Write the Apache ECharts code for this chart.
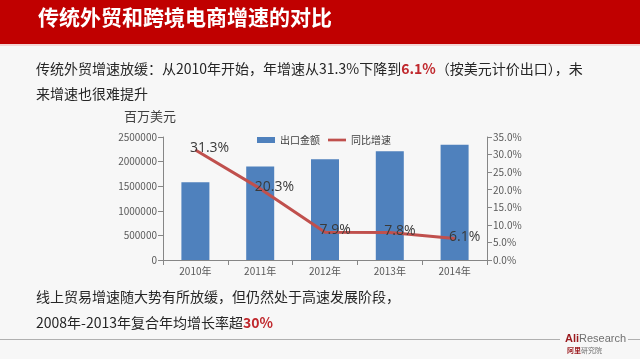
<!DOCTYPE html>
<html><head><meta charset="utf-8">
<script src="https://cdn.jsdelivr.net/npm/echarts@6/dist/echarts.min.js"></script>
<style>html,body{margin:0;padding:0;background:#f7f7f7}#c{width:640px;height:359px}</style>
</head><body><div id="c"></div>
<script>
const categories = ['2010年','2011年','2012年','2013年','2014年'];
const exportValues = [1577754, 1898381, 2048714, 2209004, 2342293];
const growthRates = [31.3, 20.3, 7.9, 7.8, 6.1];
const seriesNames = ['出口金额','同比增速'];

const FONT = '"Noto Sans CJK SC","Noto Sans",sans-serif';
const chart = echarts.init(document.getElementById('c'));
chart.setOption({
  backgroundColor: '#f7f7f7',
  textStyle: {fontFamily: FONT},
  animation: false,
  graphic: [
    {type:'rect', shape:{x:0,y:0,width:640,height:44}, style:{fill:'#c00000'}},
    {type:'rect', shape:{x:0,y:44,width:640,height:2}, style:{fill:'#f3d6d6'}},
    {type:'text', left:38, top:7, style:{text:'传统外贸和跨境电商增速的对比', fill:'#ffffff', font:'bold 21px '+FONT}},
    {type:'text', left:36, top:62, style:{text:'传统外贸增速放缓：从2010年开始，年增速从31.3%下降到{r|6.1%}（按美元计价出口），未', fill:'#262626', font:'14px '+FONT, rich:{r:{fill:'#c0282d', fontWeight:'bold', fontSize:14, fontFamily:FONT}}}},
    {type:'text', left:36, top:87, style:{text:'来增速也很难提升', fill:'#262626', font:'14px '+FONT}},
    {type:'text', left:124, top:110, style:{text:'百万美元', fill:'#404040', font:'13px '+FONT}},
    {type:'text', left:36, top:290, style:{text:'线上贸易增速随大势有所放缓，但仍然处于高速发展阶段，', fill:'#262626', font:'14px '+FONT}},
    {type:'text', left:36, top:316, style:{text:'2008年-2013年复合年均增长率超{r|30%}', fill:'#262626', font:'14px '+FONT, rich:{r:{fill:'#c0282d', fontWeight:'bold', fontSize:14, fontFamily:FONT}}}},
    {type:'rect', shape:{x:0,y:339,width:560,height:1}, style:{fill:'#b0b0b0'}},
    {type:'rect', shape:{x:628,y:339,width:12,height:1}, style:{fill:'#b0b0b0'}},
    {type:'text', left:565, top:333, style:{text:'{a|Ali}{b|Research}', rich:{a:{fill:'#9b1b1f', fontWeight:'bold', fontSize:11, fontFamily:'Arial,"Liberation Sans",sans-serif'}, b:{fill:'#707070', fontSize:11, fontFamily:'Arial,"Liberation Sans",sans-serif'}}}},
    {type:'text', left:567, top:347, style:{text:'{a|阿里}{b|研究院}', rich:{a:{fill:'#9b1b1f', fontWeight:'bold', fontSize:7, fontFamily:FONT}, b:{fill:'#707070', fontSize:7, fontFamily:FONT}}}}
  ],
  legend: {
    left: 252, top: 130,
    itemWidth: 18, itemHeight: 6, itemGap: 8,
    textStyle: {fontSize: 10, color: '#404040', fontFamily: FONT},
    data: [{name: seriesNames[0], icon: 'rect'}, {name: seriesNames[1], icon: 'path://M0,0L20,0L20,3L0,3Z'}]
  },
  grid: {left: 163, right: 153, top: 137, bottom: 99},
  xAxis: {
    type: 'category', data: categories,
    axisLine: {lineStyle: {color: '#868686'}},
    axisTick: {show: true, alignWithLabel: false, lineStyle: {color: '#868686'}},
    axisLabel: {fontSize: 10, color: '#595959', margin: 6}
  },
  yAxis: [
    {type:'value', min:0, max:2500000, interval:500000,
     axisLine:{show:true, lineStyle:{color:'#868686'}},
     axisTick:{show:true, lineStyle:{color:'#868686'}},
     splitLine:{show:false},
     axisLabel:{fontSize:10, color:'#595959', margin:6, formatter: v => String(v)}},
    {type:'value', min:0, max:35, interval:5, position:'right',
     axisLine:{show:true, lineStyle:{color:'#868686'}},
     axisTick:{show:true, lineStyle:{color:'#868686'}},
     splitLine:{show:false},
     axisLabel:{fontSize:10, color:'#595959', margin:6, formatter: v => v.toFixed(1)+'%'}}
  ],
  series: [
    {name: seriesNames[0], type:'bar', data: exportValues, barWidth: 28,
     itemStyle:{color:'#4f81bd'}},
    {name: seriesNames[1], type:'line', yAxisIndex:1, data: growthRates,
     symbol:'circle', symbolSize:1,
     lineStyle:{color:'#c0504d', width:3},
     itemStyle:{color:'#c0504d'},
     label:{show:true, position:'right', distance:0, offset:[-6,-2], fontSize:14, color:'#3a3a3a', fontFamily:'"Open Sans",Arial,sans-serif', formatter: p => p.value + '%'}}
  ]
});
</script></body></html>
